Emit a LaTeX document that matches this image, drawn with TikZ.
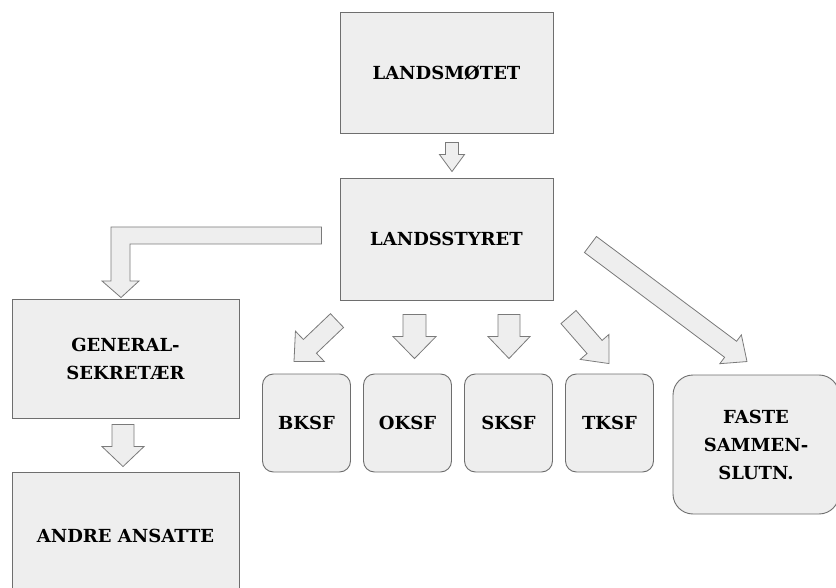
\documentclass[tikz,border=0pt]{standalone}
\usepackage{fontspec}
\setmainfont{DejaVu Serif}
\usetikzlibrary{calc}

\definecolor{boxfill}{HTML}{EEEEEE}
\definecolor{boxline}{HTML}{6E6E6E}
\definecolor{arrowline}{HTML}{7A7A7A}

% block arrow: start, tip, half shaft, half head, head length
\newcommand{\fatarrow}[5]{%
	\coordinate (fs) at (#1);
	\coordinate (ft) at (#2);
	\coordinate (fh) at ($(ft)!#5pt!(fs)$);
	\draw[arrowbody] ($(fs)!#3pt!90:(ft)$) -- ($(fh)!#3pt!90:(ft)$)
		-- ($(fh)!#4pt!90:(ft)$) -- (ft) -- ($(fh)!#4pt!-90:(ft)$)
		-- ($(fh)!#3pt!-90:(ft)$) -- ($(fs)!#3pt!-90:(ft)$) -- cycle;
}

\begin{document}
\begin{tikzpicture}[x=1pt, y=-1pt,
			box/.style={
				draw=boxline,
				fill=boxfill,
				line width=0.9pt,
				align=center,
				inner sep=0pt,
				font=\fontsize{18}{28}\selectfont\bfseries},
			unit/.style={box,
				rounded corners=11pt,
				minimum width=88pt,
				minimum height=98pt},
			arrowbody/.style={
				draw=arrowline,
				fill=boxfill,
				line width=0.8pt}]
			\clip (0,0) rectangle (836,588);
			\node (moetet) at (446.5,72.5) [box, minimum width=213pt, minimum height=121pt] {LANDSMØTET};
			\node (styret) at (446.5,239) [box, minimum width=213pt, minimum height=122pt] {LANDSSTYRET};
			\node (gensek) at (125.5,358.5) [box, minimum width=227pt, minimum height=119pt] {GENERAL-\\SEKRETÆR};
			\node (ansatte) at (125.5,536) [box, minimum width=227pt, minimum height=128pt] {ANDRE ANSATTE};
			\node (bksf) at (306.5,423) [unit] {BKSF};
			\node (oksf) at (407.5,423) [unit] {OKSF};
			\node (sksf) at (508.5,423) [unit] {SKSF};
			\node (tksf) at (609.5,423) [unit] {TKSF};
			\node (faste) at (756,444.5) [unit, rounded corners=20pt, minimum width=166pt, minimum height=139pt] {FASTE\\SAMMEN-\\SLUTN.};
			\fatarrow{$(moetet.south)+(5.5,9)$}{$(styret.north)+(5.5,-6)$}{6.5}{12.5}{17}
			\fatarrow{$(gensek.south)+(-2.5,6)$}{$(ansatte.north)+(-2.5,-5)$}{11}{21}{20}
			\fatarrow{$(bksf.north)+(30.5,-53)$}{$(bksf.north)+(-12.5,-12)$}{9.5}{21}{22}
			\fatarrow{$(oksf.north)+(7,-59)$}{$(oksf.north)+(7,-15)$}{11.5}{21.5}{22}
			\fatarrow{$(sksf.north)+(0.5,-59)$}{$(sksf.north)+(0.5,-15)$}{11}{21}{22}
			\fatarrow{$(tksf.north)+(-41,-56.5)$}{$(tksf.north)+(-0.5,-10)$}{10}{19}{22}
			\fatarrow{$(styret.east)+(37,5.5)$}{$(faste.north)+(-9,-13)$}{10}{18}{20.5}
			% bent arrow from the board to the secretary
			\draw[arrowbody] ($(styret.west)+(-18,-12)$) -- (111,227) -- (111,281) -- (102,281)
				-- ($(gensek.north)+(-4.5,-1)$) -- (139,281) -- (130,281) -- (130,244)
				-- ($(styret.west)+(-18,5)$) -- cycle;
		\end{tikzpicture}
\end{document}
